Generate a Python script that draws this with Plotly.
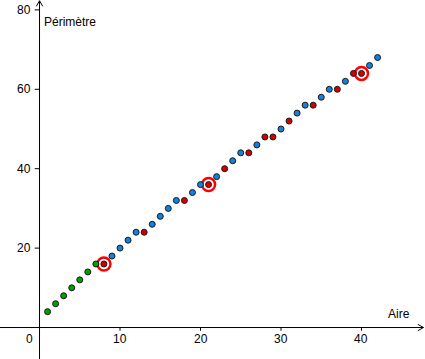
import plotly.graph_objects as go

# Data
green_x = [1, 2, 3, 4, 5, 6, 7]
green_y = [4, 6, 8, 10, 12, 14, 16]

blue_x = [9, 10, 11, 12, 14, 15, 16, 17, 19, 20, 22, 24, 25, 27, 30, 32, 33, 35, 36, 38, 41, 42]
blue_y = [18, 20, 22, 24, 26, 28, 30, 32, 34, 36, 38, 42, 44, 46, 50, 54, 56, 58, 60, 62, 66, 68]

red_x = [8, 13, 18, 21, 23, 26, 28, 29, 31, 34, 37, 39, 40]
red_y = [16, 24, 32, 36, 40, 44, 48, 48, 52, 56, 60, 64, 64]

circled_x = [8, 21, 40]
circled_y = [16, 36, 64]

x_ticks = [10, 20, 30, 40]
y_ticks = [20, 40, 60, 80]
x_title = "Aire"
y_title = "Périmètre"

XR = [-4.91, 47.89]
YR = [-7.93, 82.49]
font = dict(family="Liberation Sans, Arial, sans-serif", size=12, color="#000000")

fig = go.Figure()

def pts(x, y, color, name):
    fig.add_trace(go.Scatter(
        x=x, y=y, mode="markers", name=name,
        marker=dict(size=6, color=color, line=dict(color="#1a1a1a", width=1)),
        hoverinfo="x+y"))

fig.add_trace(go.Scatter(
    x=circled_x, y=circled_y, mode="markers", name="circled",
    marker=dict(size=13, symbol="circle-open", color="#ff0000", line=dict(color="#ff0000", width=2.5))))
pts(green_x, green_y, "#00a000", "green")
pts(blue_x, blue_y, "#1480d8", "blue")
pts(red_x, red_y, "#d00000", "red")

shapes = []
line = dict(color="#000000", width=1)
# axes
shapes.append(dict(type="line", xref="x", yref="y", x0=XR[0], x1=47.7, y0=0, y1=0, line=line))
shapes.append(dict(type="line", xref="x", yref="y", x0=0, x1=0, y0=YR[0], y1=82.3, line=line))
# arrow heads (open chevrons)
shapes.append(dict(type="path", xref="x", yref="y",
                   path="M 47.0 0.8 L 47.7 0 L 47.0 -0.8", line=line))
shapes.append(dict(type="path", xref="x", yref="y",
                   path="M -0.4 80.9 L 0 82.3 L 0.4 80.9", line=line))
# ticks
for t in x_ticks:
    shapes.append(dict(type="line", xref="x", yref="y", x0=t, x1=t, y0=0, y1=-0.8, line=line))
for t in y_ticks:
    shapes.append(dict(type="line", xref="x", yref="y", x0=-0.6, x1=0, y0=t, y1=t, line=line))

annotations = []
for t in x_ticks:
    annotations.append(dict(x=t, y=-2.9, xref="x", yref="y", text=str(t), showarrow=False,
                            xanchor="center", yanchor="middle", font=font))
annotations.append(dict(x=-1.3, y=-2.9, xref="x", yref="y", text="0", showarrow=False,
                        xanchor="center", yanchor="middle", font=font))
for t in y_ticks:
    annotations.append(dict(x=-0.85, y=t, xref="x", yref="y", text=str(t), showarrow=False,
                            xanchor="right", yanchor="middle", font=font))
annotations.append(dict(x=0.25, y=77.0, xref="x", yref="y", text=y_title, showarrow=False,
                        xanchor="left", yanchor="middle", font=font))
annotations.append(dict(x=43.1, y=3.4, xref="x", yref="y", text=x_title, showarrow=False,
                        xanchor="left", yanchor="middle", font=font))

fig.update_layout(
    width=425, height=359, autosize=False,
    margin=dict(l=0, r=0, t=0, b=0, pad=0),
    paper_bgcolor="#ffffff", plot_bgcolor="#ffffff",
    showlegend=False,
    xaxis=dict(range=XR, visible=False, fixedrange=True),
    yaxis=dict(range=YR, visible=False, fixedrange=True),
    shapes=shapes, annotations=annotations,
)

fig.write_html("out.html", config={"displayModeBar": False},
               post_script="document.body.style.margin='0';document.body.style.overflow='hidden';")
